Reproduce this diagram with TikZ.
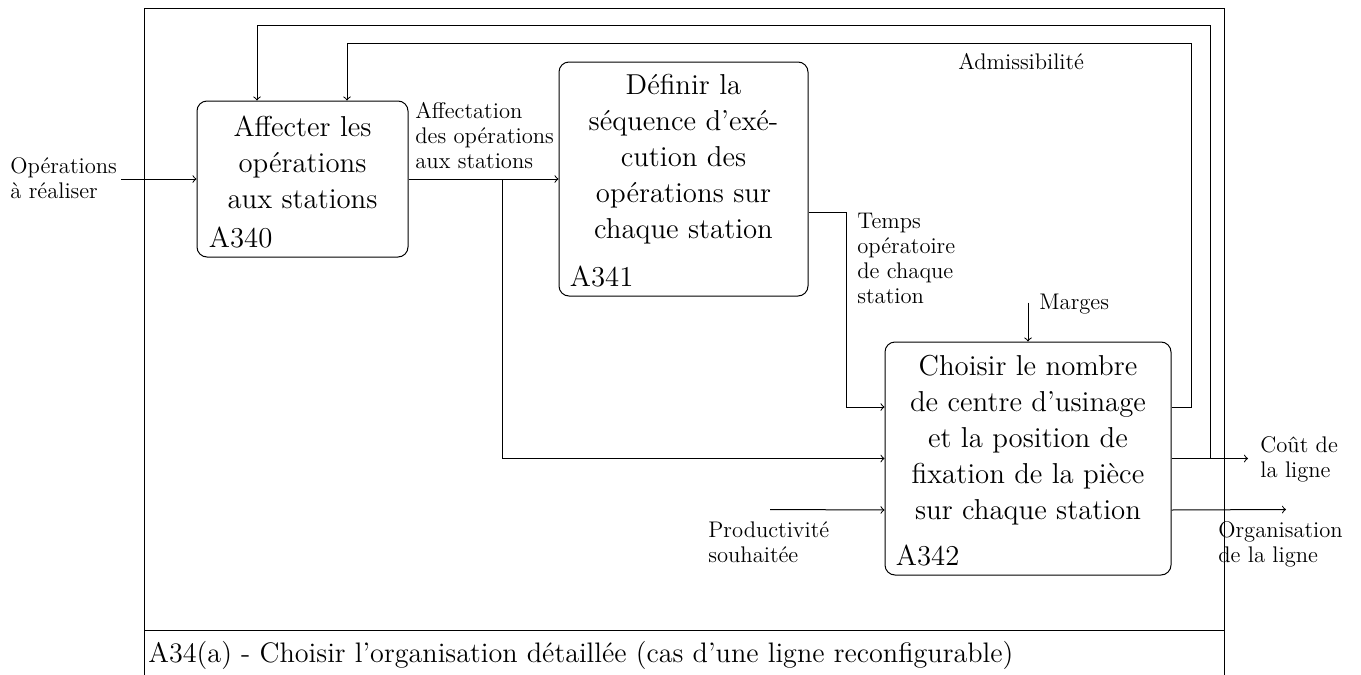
\documentclass[tikz,border=0pt]{standalone}
\usepackage{fontspec}
\usetikzlibrary{calc}
\newcommand{\labfont}{\fontsize{11.3}{12.5}\selectfont}
\newcommand{\boxfont}{\fontsize{14.4}{18}\selectfont}
\newcommand{\titlefont}{\fontsize{14.1}{18}\selectfont}
\tikzset{
  arr/.style={->, line width=0.5pt},
  ln/.style={line width=0.5pt},
  actbox/.style={draw, line width=0.5pt, rounded corners=5pt, inner sep=0pt},
  acttext/.style={anchor=north, align=center, inner sep=0pt, font=\boxfont},
  actid/.style={anchor=base west, inner sep=0pt, font=\boxfont},
  lab/.style={anchor=north west, align=left, inner sep=0pt, font=\labfont},
}
\begin{document}
\begin{tikzpicture}[x=0.5pt,y=-0.5pt]
\useasboundingbox (0,0) rectangle (1361,675);
% frame
\draw[ln] (144,675) -- (144,8) -- (1224,8) -- (1224,675);
\draw[ln] (144,630) -- (1224,630);
\node[anchor=base west, inner sep=0pt, font=\titlefont] (title) at (148,662) {A34(a) - Choisir l'organisation détaillée (cas d'une ligne reconfigurable)};
% boxes
\node[actbox, minimum width=105.5pt, minimum height=78pt] (a340) at (302.5,179) {};
\node[actbox, minimum width=124.5pt, minimum height=117pt] (a341) at (683.5,179) {};
\node[actbox, minimum width=143pt, minimum height=116.5pt] (a342) at (1028,458.5) {};
\node[acttext] (t340) at ($(a340.north)+(0,15)$) {Affecter les\\opérations\\aux stations};
\node[acttext] (t341) at ($(a341.north)+(0,12)$) {Définir la\\séquence d'exé-\\cution des\\opérations sur\\chaque station};
\node[acttext] (t342) at ($(a342.north)+(0,13)$) {Choisir le nombre\\de centre d'usinage\\et la position de\\fixation de la pièce\\sur chaque station};
\node[actid] (i340) at ($(a340.south west)+(12,-10)$) {A340};
\node[actid] (i341) at ($(a341.south west)+(11,-10)$) {A341};
\node[actid] (i342) at ($(a342.south west)+(11,-10)$) {A342};
% labels
\node[lab] (lop) at (10,157) {Opérations\\à réaliser};
\node[lab] (laff) at (415,102) {Affectation\\des opérations\\aux stations};
\node[lab] (ltemps) at (857,213) {Temps\\opératoire\\de chaque\\station};
\node[lab] (ladm) at (958,53) {Admissibilité};
\node[lab] (lmarg) at (1039,294) {Marges};
\node[lab] (lcout) at (1260,436) {Coût de\\la ligne};
\node[lab] (lprod) at (708,521) {Productivité\\souhaitée};
\node[lab] (lorg) at (1218,521) {Organisation\\de la ligne};
% coordinates
\coordinate (opin) at (121,179);
\coordinate (br1) at (502,179);
\coordinate (a341o) at ($(a341.east)+(0,33)$);
\coordinate (a342i1) at ($(a342.west)+(0,-51.5)$);
\coordinate (a342i3) at ($(a342.west)+(0,51.5)$);
\coordinate (a342o1) at ($(a342.east)+(0,-51.5)$);
\coordinate (a342o3) at ($(a342.east)+(0,51.5)$);
\coordinate (tx) at (846,0);
\coordinate (fb1) at (1191,43);
\coordinate (fb2) at (1210,25);
\coordinate (a340n1) at ($(a340.north)+(-45.5,0)$);
\coordinate (a340n2) at ($(a340.north)+(44.5,0)$);
\coordinate (mtop) at ($(a342.north)+(0,-39)$);
\coordinate (costout) at (1248,458.5);
\coordinate (orgout) at (1286,509.5);
\coordinate (prodin) at (770,509.5);
% connectors
\draw[arr] (opin) -- (a340.west);
\draw[arr] (a340.east) -- (a341.west);
\draw[arr] (br1) |- (a342.west);
\draw[arr] (a341o) -| (tx |- a342i1) -- (a342i1);
\draw[arr] (mtop) -- (a342.north);
\draw[arr] (prodin) -- (a342i3);
\draw[arr] (a342o1) -| (fb1) -| (a340n2);
\draw[arr] (a342.east) -- (costout);
\draw[arr] (a342.east -| fb2) -- (fb2) -| (a340n1);
\draw[arr] (a342o3) -- (orgout);
\end{tikzpicture}
\end{document}
